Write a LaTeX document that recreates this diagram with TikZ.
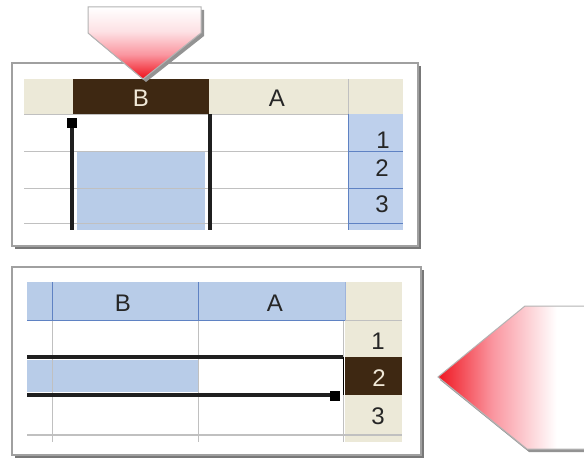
\documentclass[tikz,border=0pt]{standalone}
\usepackage{fontspec}
\setmainfont{Liberation Sans}
\definecolor{hdrbeige}{RGB}{236,233,216}
\definecolor{brownc}{RGB}{62,40,18}
\definecolor{selblue}{RGB}{184,204,232}
\definecolor{rowblue}{RGB}{190,208,236}
\definecolor{blueline}{RGB}{95,130,195}
\definecolor{gridc}{RGB}{192,192,192}
\definecolor{redc}{RGB}{240,30,40}
\definecolor{pinkc}{RGB}{250,150,160}
\definecolor{palepink}{RGB}{253,225,228}
\definecolor{framec}{RGB}{160,160,160}
\definecolor{shadowc}{RGB}{120,120,120}
\definecolor{lighttxt}{RGB}{240,232,215}
\pgfdeclarehorizontalshading{arrowh}{100bp}{color(0bp)=(redc); color(26bp)=(redc); color(43bp)=(pinkc); color(64bp)=(white); color(100bp)=(white)}
\pgfdeclareverticalshading{arrowv}{100bp}{color(0bp)=(redc); color(27bp)=(redc); color(42bp)=(pinkc); color(58bp)=(palepink); color(75bp)=(white); color(100bp)=(white)}
\begin{document}
\begin{tikzpicture}[x=1pt,y=-1pt,
  panel/.style={draw=framec,line width=1.2pt,fill=white},
  panelshadow/.style={fill=shadowc},
  gridline/.style={draw=gridc,line width=1pt},
  bluel/.style={draw=blueline,line width=1pt},
  selline/.style={draw=black!88,line width=4pt},
  lbl/.style={font=\fontsize{24}{24}\selectfont,text=black!85,inner sep=0pt},
  lbllight/.style={lbl,text=lighttxt},
  arrowshape/.style={draw=framec!80,line width=1pt},
  arrowshadow/.style={fill=shadowc!80}]
\useasboundingbox (0,0) rectangle (584,460);
\clip (0,0) rectangle (584,460);
\fill[white] (0,0) rectangle (584,460);

% ---------- top panel ----------
\fill[panelshadow] (15,66) rectangle (421,249);
\draw[panel] (12,63) rectangle (418,246);
\fill[hdrbeige] (24,79) rectangle (403,114);
\fill[brownc] (73,79) rectangle (209,114);
\draw[gridc,line width=0.8pt] (348,79) -- (348,114);
\fill[rowblue] (348,114) rectangle (403,230);
\fill[selblue] (77,151) rectangle (205,230);
\foreach \yy in {114,151,188,223} \draw[gridline] (24,\yy) -- (348,\yy);
\draw[bluel] (348,114) -- (348,230);
\foreach \yy in {151,188,223} \draw[bluel] (348,\yy) -- (403,\yy);
\draw[selline] (72,128) -- (72,230);
\draw[selline] (210,114) -- (210,230);
\fill[black] (67,118) rectangle (77,128);
\node[lbllight] (tB) at (141,98) {B};
\node[lbl] (tA) at (277,98) {A};
\node[lbl] (t1) at (383,140) {1};
\node[lbl] (t2) at (382,168) {2};
\node[lbl] (t3) at (382,204) {3};

% top arrow
\fill[arrowshadow] (91,10) -- (204,10) -- (204,36) -- (146,82) -- (91,36) -- cycle;
\path[arrowshape,shading=arrowv] (88,7) -- (201,7) -- (201,33) -- (143,79) -- (88,33) -- cycle;

% ---------- bottom panel ----------
\fill[panelshadow] (15,270) rectangle (424,458);
\draw[panel] (12,267) rectangle (421,455);
\fill[selblue] (27,282) rectangle (345,320);
\fill[hdrbeige] (345,282) rectangle (402,442);
\fill[selblue] (27,360) rectangle (198,392);
\fill[brownc] (345,357) rectangle (402,395);
\foreach \xx in {52,198} \draw[bluel] (\xx,282) -- (\xx,320);
\draw[blueline!60,line width=0.8pt] (345,282) -- (345,320);
\foreach \xx in {52,198,343} \draw[gridline] (\xx,320) -- (\xx,442);
\draw[bluel] (27,320) -- (345,320);
\draw[gridline] (345,320) -- (402,320);
\draw[gridc,line width=1.5pt] (27,435) -- (402,435);
\draw[selline] (27,357) -- (343,357);
\draw[selline] (27,395) -- (333,395);
\draw[black,line width=1pt] (343,357) -- (343,395);
\fill[black] (330,391) rectangle (340,401);
\node[lbl] (bB) at (123,303) {B};
\node[lbl] (bA) at (275,303) {A};
\node[lbl] (b1) at (378,341) {1};
\node[lbllight] (b2) at (379,378) {2};
\node[lbl] (b3) at (378,416) {3};

% left arrow
\fill[arrowshadow] (440,380) -- (527,309) -- (590,309) -- (590,452) -- (529,452) -- cycle;
\path[arrowshape,shading=arrowh] (438,377) -- (525,306) -- (590,306) -- (590,449) -- (527,449) -- cycle;
\end{tikzpicture}
\end{document}
